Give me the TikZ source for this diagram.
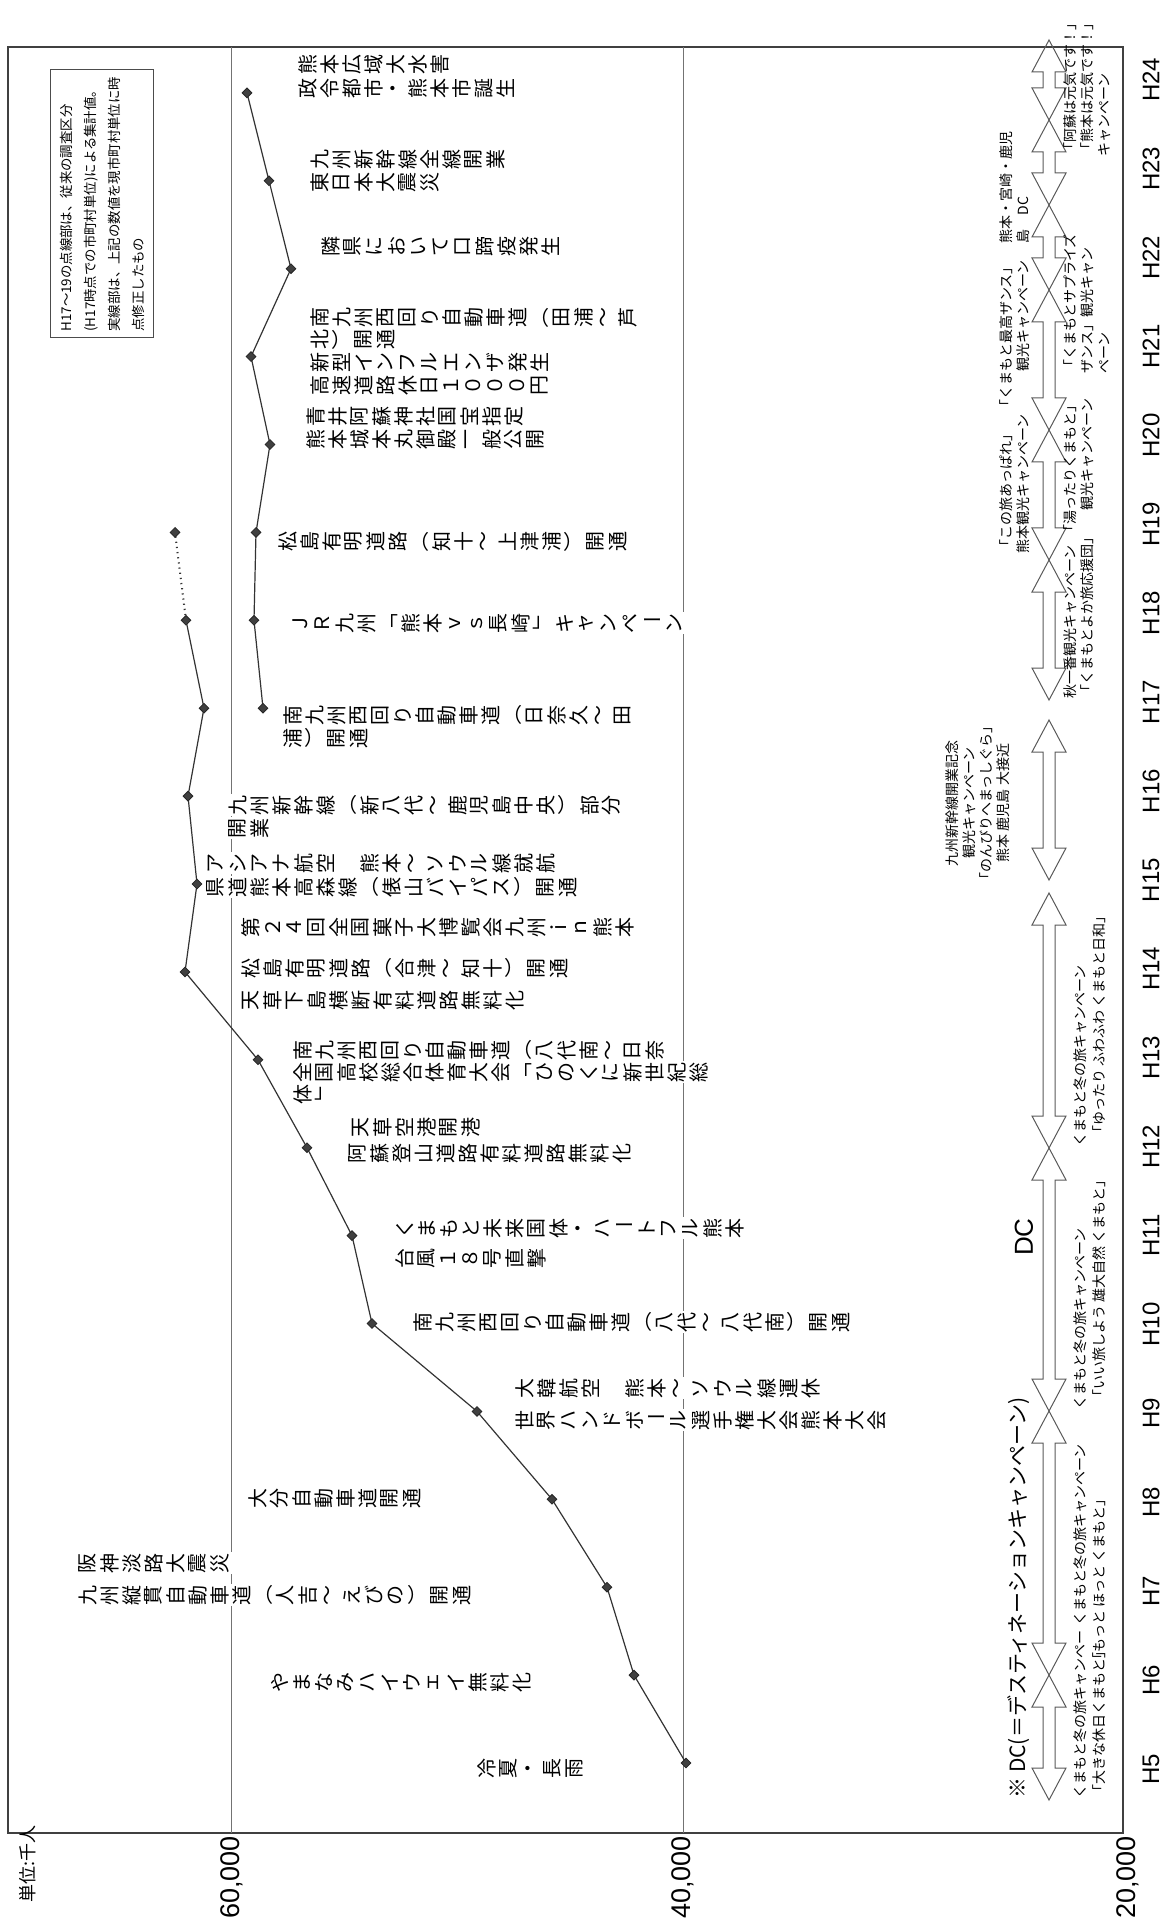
\documentclass[tikz,border=0pt]{standalone}
\usepackage{fontspec}
\usepackage{graphicx}
\setmainfont{Noto Sans CJK JP}
\newfontfamily\latfont{Liberation Sans}
\usetikzlibrary{shapes.geometric}

% vertical (tategaki) columns, one glyph per box
\makeatletter
\def\tLP{（}\def\tRP{）}\def\tCH{ー}\def\tLB{「}\def\tRB{」}
\newif\iftaterot
\def\tate@glyph{\taterotfalse
  \ifx\tc\tLP\taterottrue\fi\ifx\tc\tRP\taterottrue\fi
  \ifx\tc\tCH\taterottrue\fi\ifx\tc\tLB\taterottrue\fi\ifx\tc\tRB\taterottrue\fi
  \iftaterot\rotatebox[origin=c]{-90}{\tc}\else\tc\fi}
\newcommand\tate[1]{\vbox{\offinterlineskip
  \@tfor\tc:=#1\do{\hbox to 1em{\hss\vbox to 1.1em{\vss\hbox{\tate@glyph}\vss}\hss}}}}
\makeatother

% double block arrow of the campaign column
\newcommand\darrow[2]{\draw[arw] (1049,#1) -- (1032,#1-32) -- (1043,#1-32) -- (1043,#2+32)
  -- (1032,#2+32) -- (1049,#2) -- (1066,#2+32) -- (1055,#2+32) -- (1055,#1-32) -- (1066,#1-32) -- cycle;}

\begin{document}
\begin{tikzpicture}[x=0.5pt,y=-0.5pt,
  frame/.style={draw=black!75,line width=0.8pt},
  gridln/.style={draw=black!55,line width=0.5pt},
  ev/.style={rotate=90,anchor=north,fill=white,inner sep=0.6pt,font=\fontsize{10}{11}\selectfont},
  cp/.style={rotate=90,inner sep=0.5pt,font=\fontsize{7}{8.5}\selectfont},
  dline/.style={draw=black!80,line width=0.6pt},
  dat/.style={diamond,fill=black!75,draw=black!85,inner sep=0pt,minimum size=5pt},
  arw/.style={draw=black!65,line width=0.5pt,line join=miter},
  yr/.style={rotate=90,font=\latfont\fontsize{12}{14}\selectfont},
  ax/.style={rotate=90,anchor=west,font=\latfont\fontsize{13.5}{16}\selectfont}]

  \useasboundingbox (0,0) rectangle (1173,1930);

  \draw[frame] (8,47) rectangle (1123,1833);
  \draw[gridln] (231,47) -- (231,1833);
  \draw[gridln] (683,47) -- (683,1833);

  \draw[black!70,line width=0.5pt] (50,70) rectangle (153,338);
  \node[rotate=90,anchor=north west,align=left,inner sep=0pt,
    font=\fontsize{6.7}{12}\selectfont] (note) at (60,332)
    {H17～19の点線部は、従来の調査区分\\(H17時点での市町村単位)による集計値。\\
     実線部は、上記の数値を現市町村単位に時\\点修正したもの};

  % events
  \node[ev] (e24a) at (295,65) {\tate{熊本広域大水害}};
  \node[ev] (e24b) at (295,89) {\tate{政令都市・熊本市誕生}};
  \node[ev] (e23a) at (307,160) {\tate{九州新幹線全線開業}};
  \node[ev] (e23b) at (307,183) {\tate{東日本大震災}};
  \node[ev] (e22a) at (318,247) {\tate{隣県において口蹄疫発生}};
  \node[ev] (e21a) at (307,318) {\tate{南九州西回り自動車道（田浦～芦}};
  \node[ev] (e21b) at (307,340) {\tate{北）開通}};
  \node[ev] (e21c) at (307,363) {\tate{新型インフルエンザ発生}};
  \node[ev] (e21d) at (307,386) {\tate{高速道路休日１０００円}};
  \node[ev] (e20a) at (303,417) {\tate{青井阿蘇神社国宝指定}};
  \node[ev] (e20b) at (303,440) {\tate{熊本城本丸御殿一般公開}};
  \node[ev] (e19a) at (275,542) {\tate{松島有明道路（知十～上津浦）開通}};
  \node[ev] (e18a) at (288,623) {\tate{ＪＲ九州「熊本ｖｓ長崎」キャンペーン}};
  \node[ev] (e17a) at (280,715) {\tate{南九州西回り自動車道（日奈久～田}};
  \node[ev] (e17b) at (280,738) {\tate{浦）開通}};
  \node[ev] (e16a) at (225,805) {\tate{九州新幹線（新八代～鹿児島中央）部分}};
  \node[ev] (e16b) at (225,828) {\tate{開業}};
  \node[ev] (e15a) at (203,863) {\tate{アシアナ航空　熊本～ソウル線就航}};
  \node[ev] (e15b) at (203,887) {\tate{県道熊本高森線（俵山バイパス）開通}};
  \node[ev] (e14a) at (238,927) {\tate{第２４回全国菓子大博覧会九州ｉｎ熊本}};
  \node[ev] (e14b) at (238,968) {\tate{松島有明道路（合津～知十）開通}};
  \node[ev] (e14c) at (238,1000) {\tate{天草下島横断有料道路無料化}};
  \node[ev] (e13a) at (290,1050) {\tate{南九州西回り自動車道（八代南～日奈}};
  \node[ev] (e13b) at (290,1072) {\tate{全国高校総合体育大会「ひのくに新世紀総}};
  \node[ev] (e13c) at (290,1094) {\tate{体」}};
  \node[ev] (e12a) at (348,1127) {\tate{天草空港開港}};
  \node[ev] (e12b) at (345,1153) {\tate{阿蘇登山道路有料道路無料化}};
  \node[ev] (e11a) at (392,1228) {\tate{くまもと未来国体・ハートフル熊本}};
  \node[ev] (e11b) at (392,1258) {\tate{台風１８号直撃}};
  \node[ev] (e10a) at (410,1322) {\tate{南九州西回り自動車道（八代～八代南）開通}};
  \node[ev] (e9a) at (512,1388) {\tate{大韓航空　熊本～ソウル線運休}};
  \node[ev] (e9b) at (512,1420) {\tate{世界ハンドボール選手権大会熊本大会}};
  \node[ev] (e8a) at (245,1498) {\tate{大分自動車道開通}};
  \node[ev] (e7a) at (75,1563) {\tate{阪神淡路大震災}};
  \node[ev] (e7b) at (75,1595) {\tate{九州縦貫自動車道（人吉～えびの）開通}};
  \node[ev] (e6a) at (267,1682) {\tate{やまなみハイウェイ無料化}};
  \node[ev] (e5a) at (474,1768) {\tate{冷夏・長雨}};

  % visitors, old and new survey
  \foreach \n/\v in {5/686,6/634,7/607,8/552,9/477,10/372,11/352,12/307,
      13/258,14/185,15/197,16/188,17/204,18/186,19/175}
    \coordinate (o\n) at (\v,{1763-87.9*(\n-5)});
  \foreach \n/\v in {17/263,18/254,19/256,20/270,21/251,22/291,23/269,24/247}
    \coordinate (n\n) at (\v,{1763-87.9*(\n-5)});
  \draw[dline] (o5) \foreach \n in {6,...,18}{ -- (o\n)};
  \draw[dline,dotted,line width=1pt] (o18) -- (o19);
  \draw[dline] (n17) \foreach \n in {18,...,24}{ -- (n\n)};
  \foreach \n in {5,...,19} \node[dat] (mo\n) at (o\n) {};
  \foreach \n in {17,...,24} \node[dat] (mn\n) at (n\n) {};

  % campaigns
  \darrow{1800}{1675}
  \darrow{1675}{1411}
  \darrow{1411}{1148}
  \darrow{1148}{893}
  \darrow{880}{720}
  \darrow{700}{560}
  \darrow{560}{430}
  \darrow{430}{290}
  \darrow{290}{205}
  \darrow{205}{120}
  \darrow{120}{40}

  \node[cp,anchor=west,font=\fontsize{10.5}{12}\selectfont] (dcnote) at (1019,1800)
    {※ DC(＝デスティネーションキャンペーン)};
  \node[rotate=90,font=\latfont\fontsize{13}{15}\selectfont] (dc) at (1024,1237) {DC};
  \node[cp,anchor=west] (c1a) at (1080,1800) {くまもと冬の旅キャンペー};
  \node[cp,anchor=west] (c2a) at (1080,1627) {くまもと冬の旅キャンペーン};
  \node[cp,anchor=west] (c3a) at (1080,1411) {くまもと冬の旅キャンペーン};
  \node[cp,anchor=west] (c4a) at (1080,1148) {くまもと冬の旅キャンペーン};
  \node[cp,anchor=west] (c1b) at (1099,1800) {「大きな休日くまもと」};
  \node[cp,anchor=west] (c2b) at (1099,1668) {「もっと ほっと くまもと」};
  \node[cp,anchor=west] (c3b) at (1099,1405) {「いい旅しよう 雄大自然 くまもと」};
  \node[cp,anchor=west] (c4b) at (1099,1141) {「ゆったり ふわふわ くまもと日和」};
  \node[cp,align=center] (c5) at (978,803)
    {九州新幹線開業記念\\観光キャンペーン\\「のんびりへまっしぐら」\\熊本 鹿児島 大接近};
  \node[cp,anchor=north west,align=left] (c6) at (1062,700)
    {秋一番観光キャンペーン\\「くまもとよか旅応援団」};
  \node[cp,anchor=north west,align=left] (c7) at (998,555)
    {「この旅あっぱれ」\\熊本観光キャンペーン};
  \node[cp,anchor=north west,align=right] (c8) at (1062,540)
    {「湯ったりくまもと」\\観光キャンペーン};
  \node[cp,anchor=north west,align=right] (c9) at (998,415)
    {「くまもと最高ザンス」\\観光キャンペーン};
  \node[cp,anchor=north west,align=left] (c10) at (1062,375)
    {「くまもとサプライズ\\ザンス」観光キャン\\ペーン};
  \node[cp,anchor=north west,align=left] (c11) at (998,245)
    {熊本・宮崎・鹿児\\島　DC};
  \node[cp,anchor=north west,align=left] (c12) at (1062,158)
    {「阿蘇は元気です！」\\「熊本は元気です！」\\キャンペーン};

  % axes
  \foreach \n in {5,...,24}
    \node[yr] (h\n) at (1151,{1769-88.9*(\n-5)}) {H\n};
  \node[ax] (y60) at (232,1926) {60,000};
  \node[ax] (y40) at (683,1926) {40,000};
  \node[ax] (y20) at (1128,1926) {20,000};
  \node[rotate=90,anchor=west,font=\fontsize{9}{10}\selectfont] (unit) at (28,1910) {単位:千人};
\end{tikzpicture}
\end{document}
